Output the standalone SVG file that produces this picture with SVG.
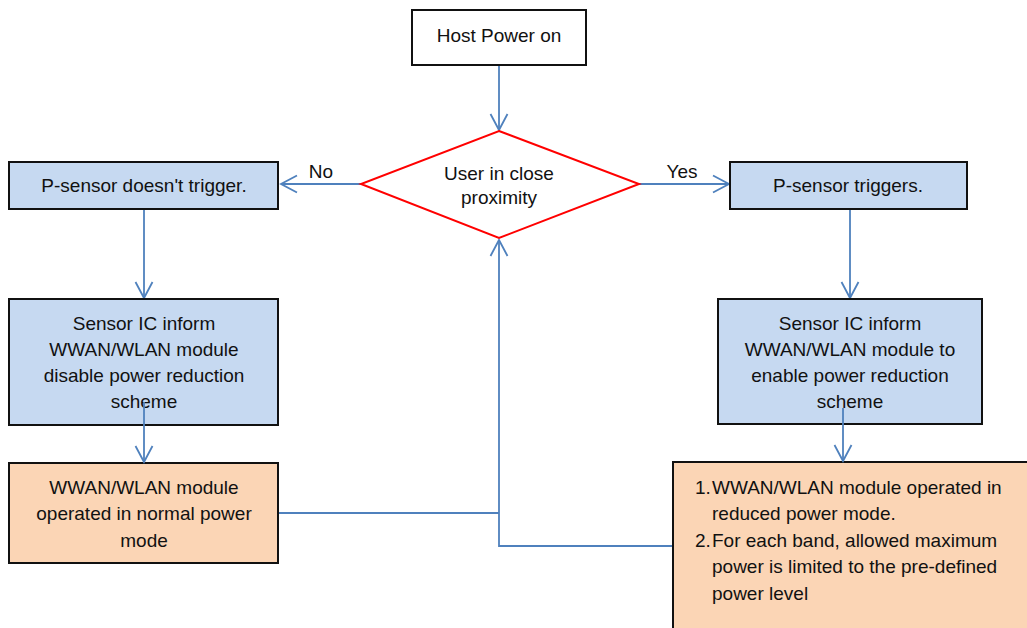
<svg xmlns="http://www.w3.org/2000/svg" width="1027" height="628" viewBox="0 0 1027 628">
<defs>
<style>
text{font-family:"Liberation Sans",Arial,sans-serif;font-size:19px;fill:#111}
.c{text-anchor:middle}
.box{stroke:#111;stroke-width:2}
.blue{fill:#C6D9F1}
.orange{fill:#FBD5B5}
.white{fill:#fff}
.conn{fill:none;stroke:#4F81BD;stroke-width:1.8}
</style>
<marker id="arr" markerUnits="userSpaceOnUse" markerWidth="20" markerHeight="20" viewBox="-17 -10 20 20" refX="0" refY="0" orient="auto">
<path d="M-16,-8.5 L0,0 L-16,8.5" fill="none" stroke="#4F81BD" stroke-width="1.8"/>
</marker>
</defs>
<rect width="1027" height="628" fill="#fff"/>
<g id="connectors">
<path class="conn" d="M499,65 L499,130" marker-end="url(#arr)"/>
<path class="conn" d="M361,184 L281,184" marker-end="url(#arr)"/>
<path class="conn" d="M639,184 L729,184" marker-end="url(#arr)"/>
<path class="conn" d="M144,209 L144,298" marker-end="url(#arr)"/>
<path class="conn" d="M850,209 L850,298" marker-end="url(#arr)"/>
<path class="conn" d="M279,513 L499,513"/>
<path class="conn" d="M673,546 L499,546 L499,240" marker-end="url(#arr)"/>
<text x="321" y="178" class="c">No</text>
<text x="682" y="178" class="c">Yes</text>
</g>
<g id="host">
<rect class="box white" x="412" y="10" width="174" height="55"/>
<text x="499" y="42" class="c">Host Power on</text>
</g>
<g id="decision">
<polygon points="499,131 639,184 499,238 361,184" fill="#fff" stroke="#FF0000" stroke-width="2"/>
<text x="499" y="180" class="c">User in close</text>
<text x="499" y="204" class="c">proximity</text>
</g>
<g id="no-trigger">
<rect class="box blue" x="9" y="162" width="269" height="47"/>
<text x="144" y="192" class="c">P-sensor doesn't trigger.</text>
</g>
<g id="trigger">
<rect class="box blue" x="730" y="162" width="237" height="47"/>
<text x="848" y="192" class="c">P-sensor triggers.</text>
</g>
<g id="disable">
<rect class="box blue" x="9" y="299" width="269" height="126"/>
<text x="144" y="330" class="c">Sensor IC inform</text>
<text x="144" y="356" class="c">WWAN/WLAN module</text>
<text x="144" y="382" class="c">disable power reduction</text>
<text x="144" y="408" class="c">scheme</text>
</g>
<g id="enable">
<rect class="box blue" x="718" y="299" width="264" height="125"/>
<text x="850" y="330" class="c">Sensor IC inform</text>
<text x="850" y="356" class="c">WWAN/WLAN module to</text>
<text x="850" y="382" class="c">enable power reduction</text>
<text x="850" y="408" class="c">scheme</text>
</g>
<g id="normal">
<rect class="box orange" x="9" y="463" width="269" height="100"/>
<text x="144" y="494" class="c">WWAN/WLAN module</text>
<text x="144" y="520" class="c">operated in normal power</text>
<text x="144" y="547" class="c">mode</text>
</g>
<g id="reduced">
<rect class="box orange" x="673" y="462" width="380" height="190"/>
<text x="695" y="494">1.</text><text x="712" y="494">WWAN/WLAN module operated in</text>
<text x="712" y="520">reduced power mode.</text>
<text x="695" y="547">2.</text><text x="712" y="547">For each band, allowed maximum</text>
<text x="712" y="573">power is limited to the pre-defined</text>
<text x="712" y="600">power level</text>
</g>
<g id="lines-over">
<path class="conn" d="M144,402 L144,462" marker-end="url(#arr)"/>
<path class="conn" d="M843,408 L843,461" marker-end="url(#arr)"/>
</g>
</svg>
